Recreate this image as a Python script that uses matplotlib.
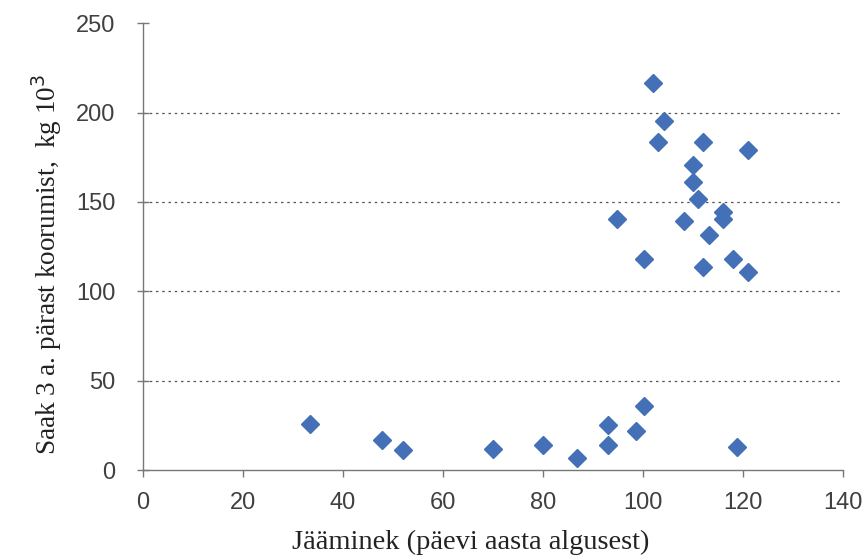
import matplotlib.pyplot as plt
import numpy as np

# Jääminek (day of year) vs yield 3 years after bark stripping
days = [33.5, 47.9, 52.0, 70.0, 80.0, 86.9, 93.0, 93.0, 98.7, 100.2,
        94.9, 100.3, 102.0, 104.2, 103.1, 112.1, 121.1, 110.0, 110.0, 111.0,
        108.2, 116.1, 116.1, 113.2, 112.1, 118.1, 121.1, 118.9]
saak = [26.0, 16.9, 11.1, 11.6, 14.0, 6.6, 25.1, 13.9, 21.9, 36.0,
        140.3, 118.0, 216.3, 195.1, 183.7, 183.7, 178.8, 170.8, 161.4, 151.5,
        139.5, 144.6, 140.5, 131.5, 113.3, 118.0, 110.5, 12.9]

xticks = np.arange(0, 141, 20)
yticks = np.arange(0, 251, 50)

fig = plt.figure(figsize=(8.64, 5.6), dpi=100)
ax = fig.add_axes([0.1652, 0.1607, 0.8105, 0.798])

ax.plot(days, saak, linestyle="none", marker="D", markersize=9.5,
        color="#4470b8", markeredgecolor="#4470b8", zorder=3)

ax.set_xlim(0, 140)
ax.set_ylim(0, 250)
ax.set_xticks(xticks)
ax.set_yticks(yticks)

for v in yticks[1:-1]:
    ax.axhline(v, color="#555555", linestyle=(0, (2, 3)), linewidth=0.9, zorder=1)

for side in ["top", "right"]:
    ax.spines[side].set_visible(False)
for side in ["left", "bottom"]:
    ax.spines[side].set_color("#777777")
    ax.spines[side].set_linewidth(1.0)

ax.tick_params(axis="x", direction="out", length=5, width=1.0, color="#777777",
               labelsize=17, labelcolor="#404040", pad=11)
ax.tick_params(axis="y", direction="inout", length=9, width=1.0, color="#777777",
               labelsize=17, labelcolor="#404040", pad=15)
for lab in ax.get_xticklabels() + ax.get_yticklabels():
    lab.set_fontfamily("Liberation Sans")

ax.set_xlabel("Jääminek (päevi aasta algusest)", fontfamily="Liberation Serif",
              fontsize=20.5, color="#222222")
ax.set_ylabel("Saak 3 a. pärast koorumist,  kg 10$^{3}$", fontfamily="Liberation Serif",
              fontsize=19.5, color="#222222")
ax.xaxis.set_label_coords(0.469, -0.134)
ax.yaxis.set_label_coords(-0.112, 0.46)

fig.savefig("out.png", dpi=100)
